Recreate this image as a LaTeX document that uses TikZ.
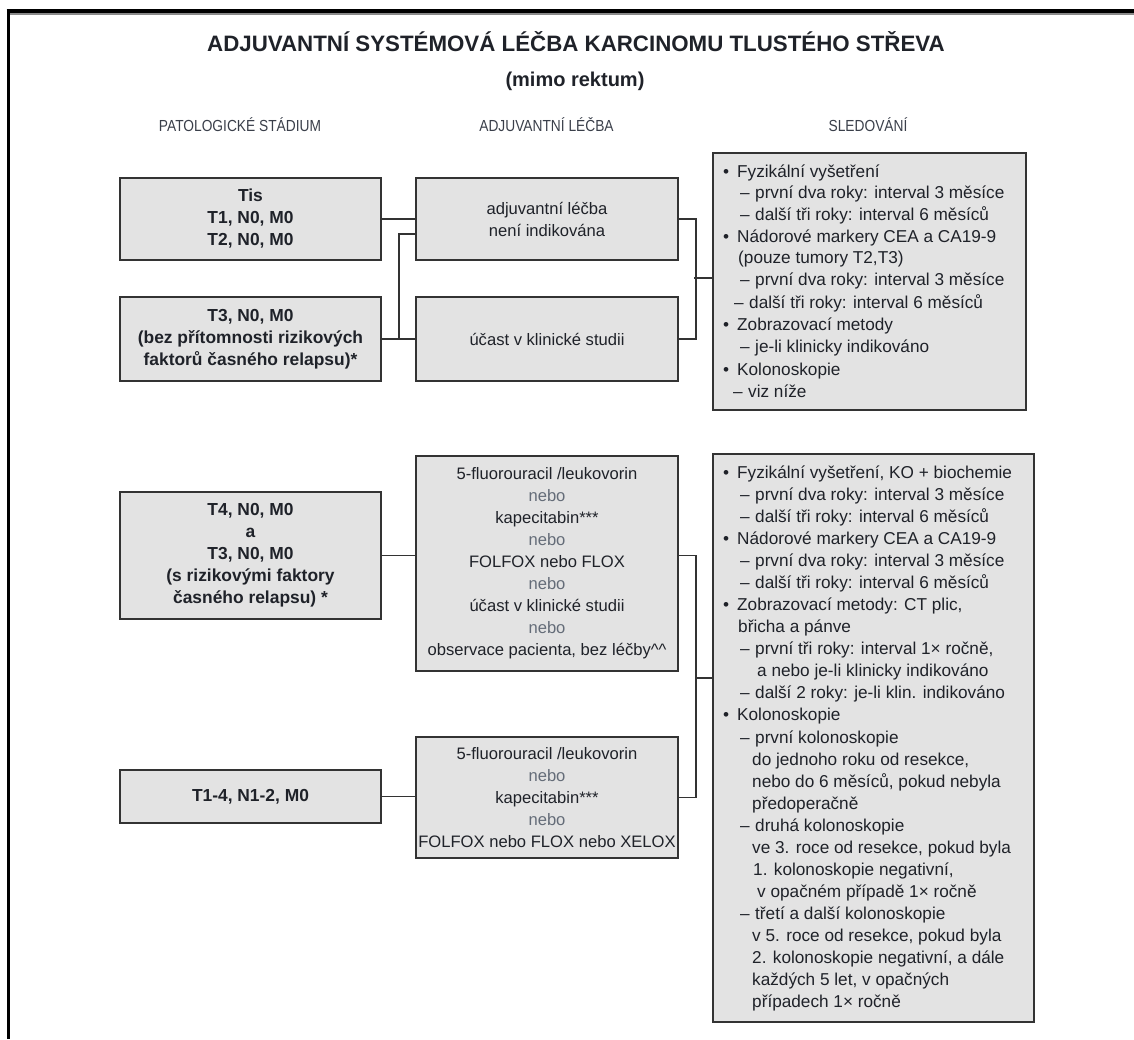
\documentclass[tikz,border=0pt]{standalone}
\usepackage{fontspec}
\setmainfont{Liberation Sans}
\newfontfamily\hdrfont[FakeStretch=0.86]{Liberation Sans}
\usetikzlibrary{calc}
\definecolor{boxfill}{HTML}{E3E3E3}
\definecolor{boxline}{HTML}{333333}
\definecolor{txt}{HTML}{1F2229}
\definecolor{nebocol}{HTML}{646C78}
\definecolor{hdr}{HTML}{3A3F4A}
\definecolor{framegray}{HTML}{8A8A8A}
\newcommand{\mybul}{\llap{•\hspace{8pt}}}
\newcommand{\mydash}{\llap{–\hspace{5.5pt}}}
\newcommand{\nb}{{\color{nebocol}nebo}}
\tikzset{
 box/.style={draw=boxline, fill=boxfill, line width=1.8pt, inner sep=0pt, align=center, text=txt, font=\fontsize{16.6}{22}\selectfont},
 boldbox/.style={box, font=\fontsize{17.4}{22}\selectfont\bfseries},
 conn/.style={draw=boxline, line width=1.8pt},
 rl/.style={anchor=base west, inner sep=0pt, text=txt, font=\fontsize{17.2}{22}\selectfont},
 hdrtext/.style={anchor=base, inner sep=0pt, text=hdr, font=\hdrfont\fontsize{16}{18}\selectfont},
 titletext/.style={anchor=base, inner sep=0pt, text=txt},
}
\begin{document}
\begin{tikzpicture}[x=1pt,y=-1pt]
\useasboundingbox (0,0) rectangle (1134,1039);
% frame
\draw[line width=3.3pt, black] (8.3,9) -- (8.3,1039);
\draw[line width=4.3pt, black] (6.6,11.2) -- (1134,11.2);
\draw[line width=1.7pt, framegray] (10,14.2) -- (1134,14.2);
% titles
\node[titletext, font=\fontsize{22.3}{26}\selectfont\bfseries] (title) at (576,51) {ADJUVANTNÍ SYSTÉMOVÁ LÉČBA KARCINOMU TLUSTÉHO STŘEVA};
\node[titletext, font=\fontsize{20}{24}\selectfont\bfseries] (subtitle) at (575,86) {(mimo rektum)};
\node[hdrtext] (h1) at (240,131) {PATOLOGICKÉ STÁDIUM};
\node[hdrtext] (h2) at (546.5,131) {ADJUVANTNÍ LÉČBA};
\node[hdrtext] (h3) at (868,131) {SLEDOVÁNÍ};
% group 1
\node[boldbox, minimum width=261pt, minimum height=82pt] (A) at (250.5,219) {Tis\\T1, N0, M0\\T2, N0, M0};
\node[boldbox, minimum width=261pt, minimum height=84pt] (B) at (250.5,339) {T3, N0, M0\\(bez přítomnosti rizikových\\faktorů časného relapsu)*};
\node[box, minimum width=262pt, minimum height=82pt] (C) at (547,219) {adjuvantní léčba\\není indikována};
\node[box, minimum width=262pt, minimum height=84pt] (D) at (547,339) {účast v klinické studii};
\node[box, minimum width=313pt, minimum height=257pt] (E) at (869.5,281.5) {};
% group 2
\node[boldbox, minimum width=261pt, minimum height=127pt] (F) at (250.5,555.5) {T4, N0, M0\\a\\T3, N0, M0\\(s rizikovými faktory\\časného relapsu) *};
\node[box, minimum width=262pt, minimum height=215pt] (G) at (547,563.5) {5-fluorouracil /leukovorin\\\nb\\kapecitabin***\\\nb\\FOLFOX nebo FLOX\\\nb\\účast v klinické studii\\\nb\\observace pacienta, bez léčby\textasciicircum\textasciicircum};
\node[boldbox, minimum width=261pt, minimum height=53pt] (H) at (250.5,796.5) {T1-4, N1-2, M0};
\node[box, minimum width=262pt, minimum height=121pt] (I) at (547,797.5) {5-fluorouracil /leukovorin\\\nb\\kapecitabin***\\\nb\\FOLFOX nebo FLOX nebo XELOX};
\node[box, minimum width=321pt, minimum height=568pt] (J) at (873.5,738) {};
% connectors group 1
\draw[conn] (A.east) -- (A.east -| C.west);
\draw[conn] (B.east) -- (B.east -| D.west);
\draw[conn] (B.east) -- ++(17,0) |- ([yshift=-15pt]C.west);
\draw[conn] (C.east) -- ++(17,0) coordinate (cj) |- (D.east);
\draw[conn] ([yshift=3.5pt]E.west) -- ++(-18,0);
% connectors group 2
\draw[conn] (F.east) -- (F.east -| G.west);
\draw[conn] (F.east -| G.east) -- ++(17,0) coordinate (gj) |- (I.east);
\draw[conn] (H.east) -- (H.east -| I.west);
\coordinate (jt) at (695,678);
\draw[conn] (jt) -- (jt -| J.west);
% E text
\node[rl] (e1) at (737,177.5) {\mybul Fyzikální vyšetření};
\node[rl] (e2) at (755,198.5) {\mydash první dva roky: interval 3 měsíce};
\node[rl] (e3) at (755,220.5) {\mydash další tři roky: interval 6 měsíců};
\node[rl] (e4) at (737,242.5) {\mybul Nádorové markery CEA a CA19-9};
\node[rl] (e5) at (738,263.5) {(pouze tumory T2,T3)};
\node[rl] (e6) at (755,285.5) {\mydash první dva roky: interval 3 měsíce};
\node[rl] (e7) at (749,308.5) {\mydash další tři roky: interval 6 měsíců};
\node[rl] (e8) at (737,330.5) {\mybul Zobrazovací metody};
\node[rl] (e9) at (755,352.5) {\mydash je-li klinicky indikováno};
\node[rl] (e10) at (737,375.5) {\mybul Kolonoskopie};
\node[rl] (e11) at (748,397.5) {\mydash viz níže};
% J text
\node[rl] (j1) at (737,478.5) {\mybul Fyzikální vyšetření, KO + biochemie};
\node[rl] (j2) at (755,500.5) {\mydash první dva roky: interval 3 měsíce};
\node[rl] (j3) at (755,522.6) {\mydash další tři roky: interval 6 měsíců};
\node[rl] (j4) at (737,544.6) {\mybul Nádorové markery CEA a CA19-9};
\node[rl] (j5) at (755,566.7) {\mydash první dva roky: interval 3 měsíce};
\node[rl] (j6) at (755,588.7) {\mydash další tři roky: interval 6 měsíců};
\node[rl] (j7) at (737,610.7) {\mybul Zobrazovací metody: CT plic,};
\node[rl] (j8) at (738,632.8) {břicha a pánve};
\node[rl] (j9) at (755,654.8) {\mydash první tři roky: interval 1× ročně,};
\node[rl] (j10) at (757,676.9) {a nebo je-li klinicky indikováno};
\node[rl] (j11) at (755,698.9) {\mydash další 2 roky: je-li klin. indikováno};
\node[rl] (j12) at (737,720.9) {\mybul Kolonoskopie};
\node[rl] (j13) at (755,743.0) {\mydash první kolonoskopie};
\node[rl] (j14) at (752,765.0) {do jednoho roku od resekce,};
\node[rl] (j15) at (752,787.1) {nebo do 6 měsíců, pokud nebyla};
\node[rl] (j16) at (752,809.1) {předoperačně};
\node[rl] (j17) at (755,831.1) {\mydash druhá kolonoskopie};
\node[rl] (j18) at (752,853.2) {ve 3. roce od resekce, pokud byla};
\node[rl] (j19) at (753,875.2) {1. kolonoskopie negativní,};
\node[rl] (j20) at (757,897.3) {v opačném případě 1× ročně};
\node[rl] (j21) at (755,919.3) {\mydash třetí a další kolonoskopie};
\node[rl] (j22) at (752,941.3) {v 5. roce od resekce, pokud byla};
\node[rl] (j23) at (752,963.4) {2. kolonoskopie negativní, a dále};
\node[rl] (j24) at (752,985.4) {každých 5 let, v opačných};
\node[rl] (j25) at (752,1007.5) {případech 1× ročně};
\end{tikzpicture}
\end{document}
